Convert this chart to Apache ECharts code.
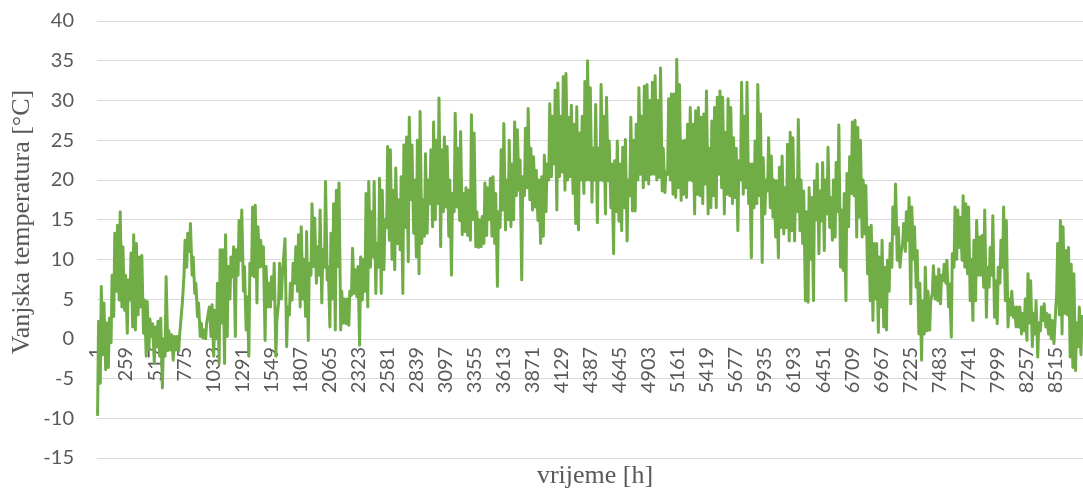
<!DOCTYPE html>
<html>
<head>
<meta charset="utf-8">
<script src="https://cdn.jsdelivr.net/npm/echarts@6/dist/echarts.min.js"></script>
<style>
  html, body { margin: 0; padding: 0; background: #fff; }
  #chart { width: 1083px; height: 490px; }
</style>
</head>
<body>
<div id="chart"></div>
<script>
var hourCount = 8760;
var labelStep = 258;
var lowHour = 6, highHour = 15;   // hour of day for the daily low / high

// days 1-91
var minQ1 = [-9.7,-5.6,-2,-3.9,-3.6,-0.5,2.8,6,4.9,4,
	3.6,0.7,4.9,1.5,1.1,3,4.0,0.7,-2.2,-1.4,
	0.3,-3.1,-1,-2.2,-6.2,-2.2,-1.5,-1.4,-2.7,-1.4,
	-1.6,0.3,8,9,11,8,5.7,2.8,0.3,0.1,
	0,2,0.3,-2.2,0,-3.1,2,-3.1,0.3,5,
	7.8,0.3,8,9.9,6,1.1,-2.2,8,7.8,4.5,
	9,9.1,-0.2,4,4.0,5,-2.2,4.5,5,8,
	-1.0,3,4.9,7,6,4.0,5,2.8,-0.2,8,
	9.1,7.0,8,4.5,9,7.4,1.5,5,1.1,9.1,
	1.1];
var maxQ1 = [2.2,6.6,4.5,2,2.6,8,13.3,14.3,16.0,11.6,
	8,7.4,10.8,13.1,12.0,10.3,10.5,4.9,4.7,2.5,
	1.9,1.5,2.2,2.6,0,7.8,1,0.5,0.3,0.3,
	0.5,4.5,12.4,13.3,14.5,10.3,7.0,4.5,2,1.1,
	2,4.0,4.3,3.6,7.0,11.2,11.2,13.1,9.1,10.3,
	11.6,11.2,14.9,16.2,9.1,5.3,9.5,16.6,16.8,14.1,
	12.4,11.6,9.1,7.0,7.8,9.5,2.4,9.5,7.8,12.6,
	4.0,7.0,9.5,11.6,13.1,14.1,10,13.5,9.5,17.0,
	15.2,11.6,16.2,11.2,19.8,9.1,13.3,17.0,18.7,19.6,
	6];

// days 92-181
var minQ2 = [2,1.9,1.7,5.5,5.7,5.3,-0.8,4.9,6,4.0,
	9,10.3,5.7,9,5.7,8.7,14,12.4,10,8.7,
	12,11.2,5.7,14,9.7,17.5,13.3,10.3,8.2,12,
	12.9,13.3,17.0,14.1,15,17.0,11.6,16,16.6,12.9,
	8.0,16,16.6,14.9,13.1,13.5,13,12.4,15,11.6,
	11.5,11.6,12.0,13,15,12.9,12,6.6,14,16.2,
	13.7,15,14.1,15,18,18.7,7.4,18,19,17.5,
	16.2,16.6,14.9,12.0,12.9,16,20,20.4,22,16.2,
	20.4,21,18.7,20,20.4,18.3,14.5,13.7,20,18.3];
var maxQ2 = [5,5,6,11.4,8.7,9.1,10.3,10,18.3,19.8,
	16,19.8,12,20.2,18.7,15,24.2,23.8,18.7,21.5,
	17.5,20.4,24.4,25.4,27.9,24.4,20,25.0,28.6,17.5,
	23.3,20,23.8,27.3,25.0,30.3,23.8,25.4,24.2,20,
	18.3,28.4,24,26.1,18.3,19,18.7,28.2,25.9,16,
	15,15.4,19.6,19,20.2,20.4,18.3,16,23.8,27.1,
	20.0,25.0,22,27.3,26.3,22.5,20.4,26.5,29.0,24,
	22.9,21.2,20,20.4,23.1,22,29.6,28,31.3,32.2,
	28,33.0,33.4,27.9,29.4,27,29.2,25.9,28,32.4];

// days 182-271
var minQ3 = [20,20,17.2,20,14.6,20,19.9,15.7,19.9,16.5,
	10.7,16,14.8,13.6,16.5,12.3,18,16.1,16.1,20,
	20.7,19.0,20,19.5,20.7,20.7,20,20.3,18.6,18.4,
	20.7,20,18.2,17.8,19,17.4,18.2,17.8,20,19.9,
	15.7,18.2,18,17.0,19.5,15.7,16.5,18,16.5,20.7,
	19,15.7,18.2,18,17.0,17.8,13.6,20,18.2,19.0,
	17.0,10.2,16.5,17.0,18,9.6,15.7,18.6,16.5,15.3,
	12.8,10.2,14,13.2,14,12.3,13.6,12.3,16,13.6,
	12,4.8,4.6,10,4.8,15,10.7,14.8,11.1,15.7];
var maxQ3 = [35.0,31.6,24,29.5,24,32.0,28,30.4,24.9,22,
	22.4,24.9,22,24.1,25.1,20,27.9,25,27.0,31.6,
	28,31.8,32.0,30,32.3,33.1,30.0,34.1,24,21,
	30.2,30.8,30.8,35.2,32.0,24.9,25,27.0,29.1,27,
	28.7,29.1,27.9,28.3,31.2,24,27.4,29.1,30.4,31.2,
	30.4,26,30.2,29.1,25.3,24,22.4,32.3,28,32.3,
	22,22,24.9,32.0,28.3,22.8,20,25.3,23,20,
	19.9,21.6,23.0,19.0,24.5,26.0,25.3,20,27.6,20,
	18.6,16,19.0,17.8,19.9,22.0,18.6,22.2,20,24.1];

// days 272-365
var minQ4 = [14,12.4,12.8,16,9.0,8.6,4.8,14.1,18.3,18,
	12.8,15.3,12.8,13.2,8.2,4.8,2.3,5,0.8,4.0,
	1.5,1.1,6,9.0,13.2,9.9,9.0,12.0,11,12.4,
	4.4,10,6.5,0.6,-2.7,0.6,1,1.1,5.7,5,
	4.8,4.4,7.3,7,4,0.2,9.0,10,11.5,9.9,
	9,8.2,4.8,2.3,4.8,8,8,6.5,2.7,6.5,
	8,2.7,1.9,7,9.0,4.8,1.5,3,2.7,1.5,
	1.5,0.6,1,-0.2,2,-1.0,0.6,-2.3,1,2.3,
	1.5,0.6,0,-0.6,5.7,3,0.6,3.2,3,-2.3,
	-3.6,-4.0,-1,-2];
var maxQ4 = [17.8,20,22.2,26.9,16.2,18.3,20.8,22.9,27.3,27.5,
	26.6,25.0,20,19.3,14,14.3,12.0,12.0,10.3,12.4,
	9,9.9,12.0,16.6,19.5,14,10.7,14.5,16,17.8,
	16.6,14.1,11.1,7,4.8,9.0,6,4.8,9.2,7.8,
	8.8,8,9.4,9.9,6.9,10.7,16.6,16.2,15.3,18.0,
	17.0,16.6,10,12.4,14.9,12.8,13,16.2,9,11.5,
	15.5,7.3,9.0,12.4,16.6,14.9,5,6,4.0,4,
	4.0,3.2,5,8.2,7.3,3.2,4.8,2,4,4.4,
	3.2,3,2.3,2,12.0,14.9,14.1,11.1,11.5,9.4,
	8.2,2,4,3];

var yTicks = { min: -15, max: 40, step: 5 };

var hours = [];
for (var i = 1; i <= hourCount; i++) hours.push(String(i));

var dayMin = minQ1.concat(minQ2, minQ3, minQ4);
var dayMax = maxQ1.concat(maxQ2, maxQ3, maxQ4);
// category axis takes the 0-based hour index as x
var lineData = [];
for (var d = 0; d < dayMin.length; d++) {
	lineData.push([d * 24 + lowHour - 1, dayMin[d]]);
	lineData.push([d * 24 + highHour - 1, dayMax[d]]);
}

var gridTop = 21, gridHeight = 437;
// put the hour axis on the 0 °C line
var zeroOffset = -gridHeight * (0 - yTicks.min) / (yTicks.max - yTicks.min);

var dom = document.getElementById('chart');
var myChart = echarts.init(dom, null, { renderer: 'canvas' });
var tickFont = 'Lato, "Liberation Sans", sans-serif';
var titleFont = '"Liberation Serif", "DejaVu Serif", serif';
var option = {
	animation: false,
	backgroundColor: '#ffffff',
	grid: {
		left: 97,
		top: gridTop,
		width: 994,
		height: gridHeight
	},
	xAxis: {
		type: 'category',
		position: 'bottom',
		offset: zeroOffset,
		data: hours,
		boundaryGap: false,
		axisLine: { show: true, onZero: false, lineStyle: { color: '#d9d9d9', width: 1 } },
		axisTick: { show: false },
		axisLabel: {
			interval: labelStep - 1,
			rotate: 90,
			margin: 8,
			color: '#595959',
			fontSize: 20,
			fontFamily: tickFont
		},
		splitLine: { show: false }
	},
	yAxis: {
		type: 'value',
		min: yTicks.min,
		max: yTicks.max,
		interval: yTicks.step,
		axisLine: { show: false },
		axisTick: { show: false },
		axisLabel: {
			margin: 23,
			color: '#595959',
			fontSize: 20,
			fontFamily: tickFont
		},
		splitLine: { lineStyle: { color: '#d9d9d9', width: 1 } }
	},
	graphic: [
		{
			type: 'text',
			x: 22,
			y: 222,
			rotation: Math.PI / 2,
			style: {
				text: 'Vanjska temperatura [°C]',
				fill: '#595959',
				font: '26px ' + titleFont,
				align: 'center',
				verticalAlign: 'middle'
			}
		},
		{
			type: 'text',
			x: 595,
			y: 476,
			style: {
				text: 'vrijeme [h]',
				fill: '#595959',
				font: '26px ' + titleFont,
				align: 'center',
				verticalAlign: 'middle'
			}
		}
	],
	series: [
		{
			name: 'Vanjska temperatura',
			type: 'line',
			data: lineData,
			showSymbol: false,
			symbol: 'none',
			lineStyle: { color: '#70ad47', width: 3, join: 'round' },
			z: 3
		}
	]
};
myChart.setOption(option, true);
</script>
</body>
</html>
